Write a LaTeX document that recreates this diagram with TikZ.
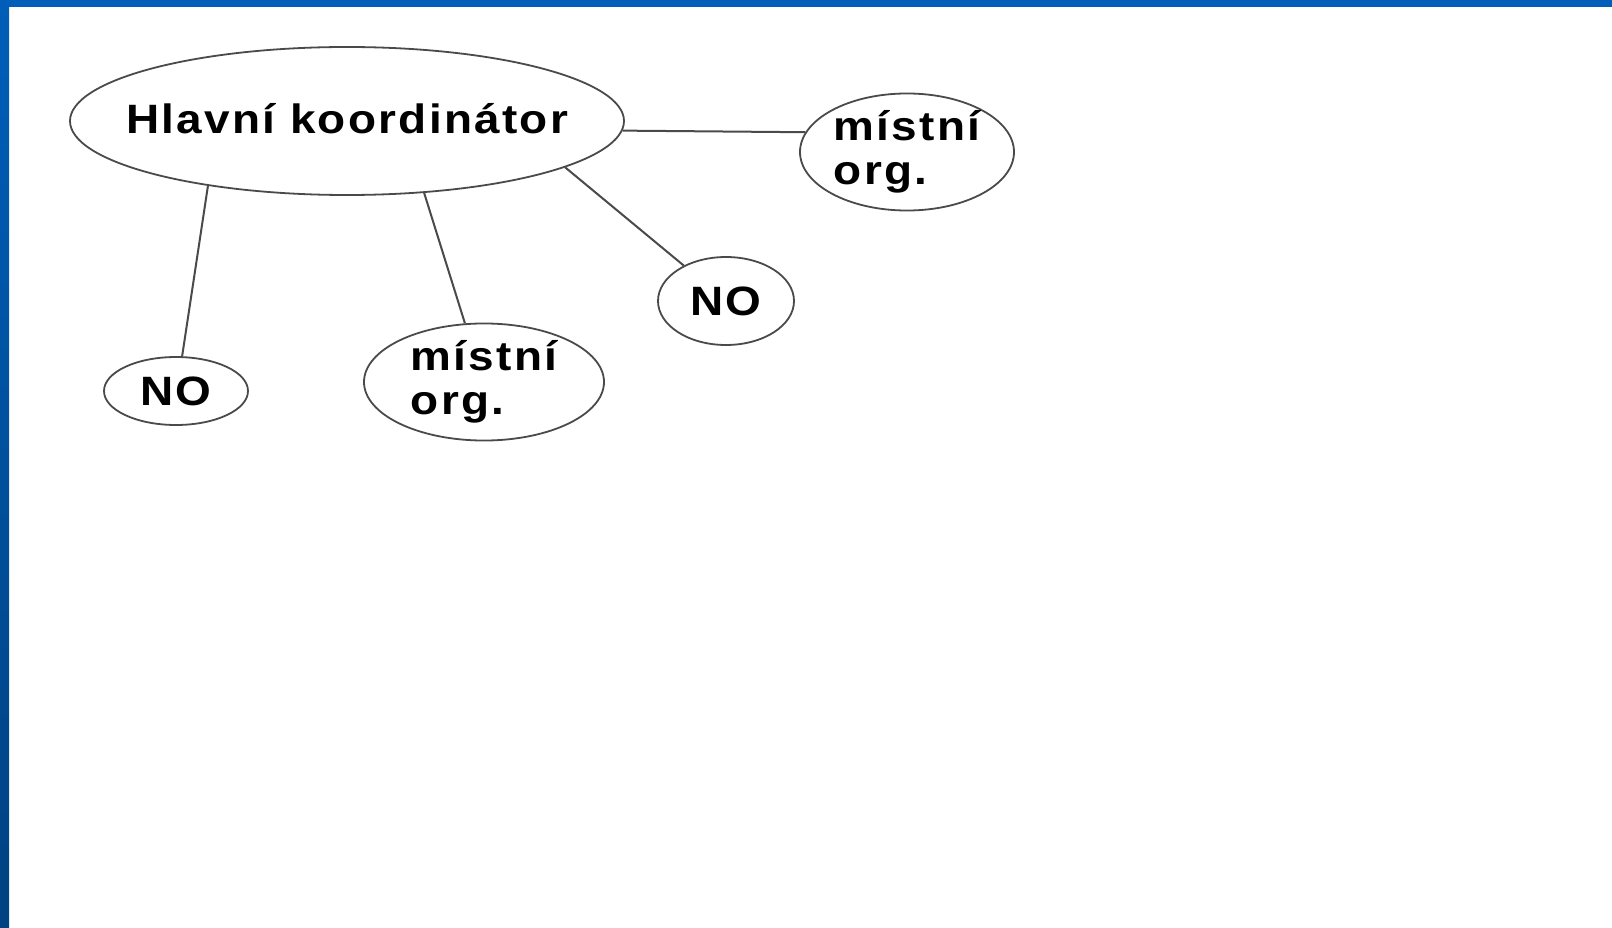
\documentclass[tikz,border=0pt]{standalone}
\usepackage{fontspec}
\setmainfont{Liberation Sans}
\newfontfamily\lblfont[FakeStretch=1.12,LetterSpace=5.5]{Liberation Sans}
\usetikzlibrary{shapes.geometric}
\definecolor{barblue}{HTML}{005EB8}
\definecolor{bardark}{HTML}{004282}
\definecolor{edgegray}{HTML}{4A4A4A}
\tikzset{
  oval/.style={ellipse, draw=edgegray, line width=1.8pt, inner sep=0pt,
    font=\lblfont\fontsize{41}{44}\bfseries\selectfont, text=black},
  link/.style={draw=edgegray, line width=2pt},
}
\begin{document}
\begin{tikzpicture}[x=1pt,y=-1pt]
\useasboundingbox (0,0) rectangle (1612,928);
\fill[white] (0,0) rectangle (1612,928);
\shade[top color=barblue, bottom color=bardark] (0,0) rectangle (9,928);
\fill[barblue] (0,0) rectangle (1612,7);

\node[oval, inner xsep=-40pt, minimum width=554pt, minimum height=148pt] (main) at (347,121) {\raisebox{5pt}{Hlavní koordinátor}};
\node[oval, minimum width=144pt, minimum height=68pt] (no1) at (176,391) {NO};
\node[oval, minimum width=240pt, minimum height=113pt, align=left] (m1) at (484,382) {místní\\org.};
\node[oval, minimum width=136pt, minimum height=88pt] (no2) at (726,301) {NO};
\node[oval, minimum width=214pt, minimum height=112pt, align=left] (m2) at (907,152) {místní\\org.};

\draw[link] (main.-155.3) -- (no1.80);
\draw[link] (main.-43) -- (m1.108);
\draw[link] (main.-12.6) -- (no2.140);
\draw[link] (main.-2.7) -- (m2.169.3);
\end{tikzpicture}
\end{document}
